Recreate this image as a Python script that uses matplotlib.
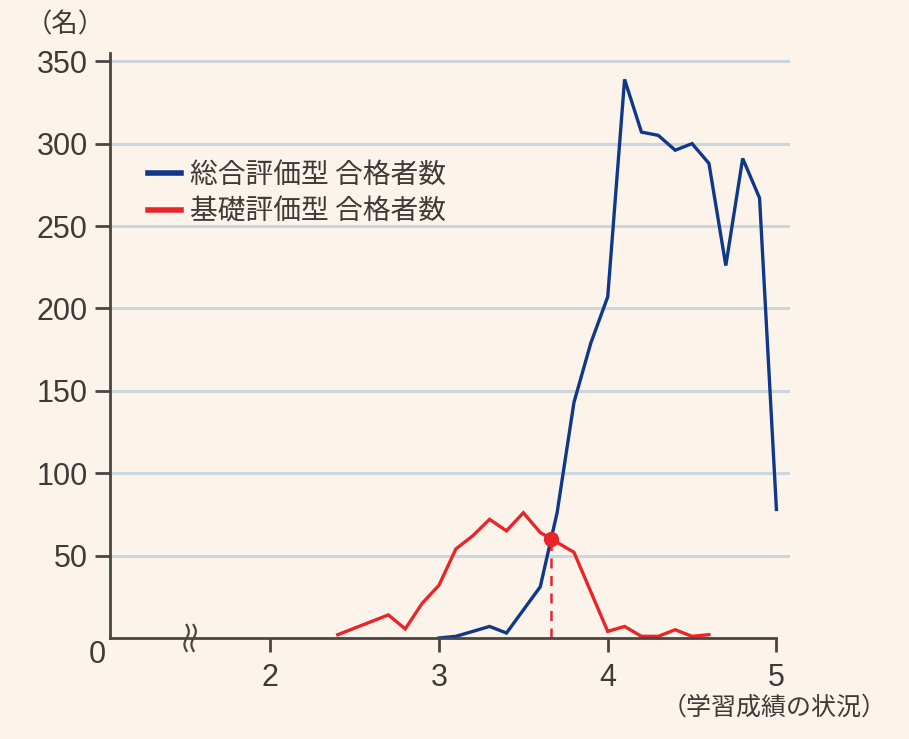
import numpy as np
import matplotlib
matplotlib.use("Agg")
import matplotlib.pyplot as plt

plt.rcParams['font.family'] = ['Noto Sans CJK JP', 'DejaVu Sans']

# -------------------------
# データ（学習成績の状況ごとの合格者数）
# -------------------------
sogo_x = [3.0, 3.1, 3.2, 3.3, 3.4, 3.5, 3.6, 3.7, 3.8, 3.9, 4.0,
          4.1, 4.2, 4.3, 4.4, 4.5, 4.6, 4.7, 4.8, 4.9, 5.0]
sogo_y = [0, 1, 4, 7, 3, 17, 31, 76, 143, 179, 207,
          339, 307, 305, 296, 300, 288, 226, 291, 267, 78]

kiso_x = [2.4, 2.5, 2.6, 2.7, 2.8, 2.9, 3.0, 3.1, 3.2, 3.3, 3.4, 3.5,
          3.6, 3.7, 3.8, 3.9, 4.0, 4.1, 4.2, 4.3, 4.4, 4.5, 4.6]
kiso_y = [2, 6, 10, 14, 5.5, 21, 32, 54, 62, 72, 65, 76,
          64, 58, 52, 28, 4, 7, 1, 1, 5, 1, 2]

labels = ['総合評価型 合格者数', '基礎評価型 合格者数']
x_ticks = [2, 3, 4, 5]
y_ticks = [50, 100, 150, 200, 250, 300, 350]

bg = '#fcf4ea'
blue = '#0f388a'
red = '#e8262a'
ink = '#4a4643'
txt = '#3d3a38'
num_font = ['Liberation Sans', 'DejaVu Sans']

# -------------------------
# 交点（2本の折れ線が交わる点）
# -------------------------
def crossing(x1, y1, x2, y2):
    grid = np.round(np.arange(3.0, 4.05, 0.1), 1)
    f1 = dict(zip(np.round(x1, 1), y1))
    f2 = dict(zip(np.round(x2, 1), y2))
    for a, b in zip(grid[:-1], grid[1:]):
        d0 = f1[a] - f2[a]
        d1 = f1[b] - f2[b]
        if d0 * d1 <= 0 and d0 != d1:
            t = d0 / (d0 - d1)
            return a + t * (b - a), f1[a] + t * (f1[b] - f1[a])
    return None

cx, cy = crossing(kiso_x, kiso_y, sogo_x, sogo_y)

# -------------------------
# グラフ
# -------------------------
fig = plt.figure(figsize=(9.09, 7.39), dpi=100, facecolor=bg)
ax = fig.add_axes([0.121, 0.1367, 0.748, 0.7916], facecolor=bg)

x_left = 1.05
ax.set_xlim(x_left, 5.08)
ax.set_ylim(0, 355)

for v in y_ticks:
    ax.axhline(v, color='#cdd6dc', lw=2.2, zorder=1)

l1, = ax.plot(sogo_x, sogo_y, color=blue, lw=2.4, zorder=3,
              solid_joinstyle='miter', label=labels[0])
l2, = ax.plot(kiso_x, kiso_y, color=red, lw=2.4, zorder=4,
              solid_joinstyle='miter', label=labels[1])

ax.plot([cx, cx], [0, cy], color=red, lw=1.8, ls=(0, (4, 3)), zorder=4)
ax.plot(cx, cy, 'o', color=red, ms=10, zorder=5)

# 軸
for s in ['top', 'right']:
    ax.spines[s].set_visible(False)
for s in ['left', 'bottom']:
    ax.spines[s].set_color(ink)
    ax.spines[s].set_linewidth(2.0)
    ax.spines[s].set_zorder(6)
ax.spines['bottom'].set_bounds(x_left, 5)

ax.set_xticks(x_ticks)
ax.set_yticks(y_ticks)
ax.tick_params(axis='both', colors=ink, width=2.0, labelsize=22,
               labelcolor=txt, direction='out')
ax.tick_params(axis='y', length=11, pad=5)
ax.tick_params(axis='x', length=10, pad=8)
plt.setp(ax.get_xticklabels() + ax.get_yticklabels(), family=num_font)

# 省略記号（≈）
t = np.linspace(-1, 1, 40)
for off in [-3.5, 3.5]:
    bx = 1.525 + (off + 2.2 * np.sin(np.pi * t)) / 168.5
    by = (t * 13) / 1.649
    ax.plot(bx, by, color=ink, lw=1.6, clip_on=False, zorder=7)

ax.text(-0.018, -0.029, '0', transform=ax.transAxes, ha='center',
        va='center', fontsize=22, color=txt, family=num_font)
fig.text(65 / 909, 1 - 25 / 739, '（名）', ha='center', va='center',
         fontsize=19, color=txt)
fig.text(774 / 909, 1 - 708 / 739, '（学習成績の状況）', ha='center',
         va='center', fontsize=18, color=txt)

leg = ax.legend(handles=[l1, l2], loc='upper left',
                bbox_to_anchor=(0.056, 0.818), frameon=False, fontsize=20,
                handlelength=1.2, handletextpad=0.3, labelspacing=0.25,
                borderpad=0, borderaxespad=0)
for h in leg.legend_handles:
    h.set_linewidth(4)
for tx in leg.get_texts():
    tx.set_color(txt)

fig.savefig('out.png', dpi=100, facecolor=bg)
